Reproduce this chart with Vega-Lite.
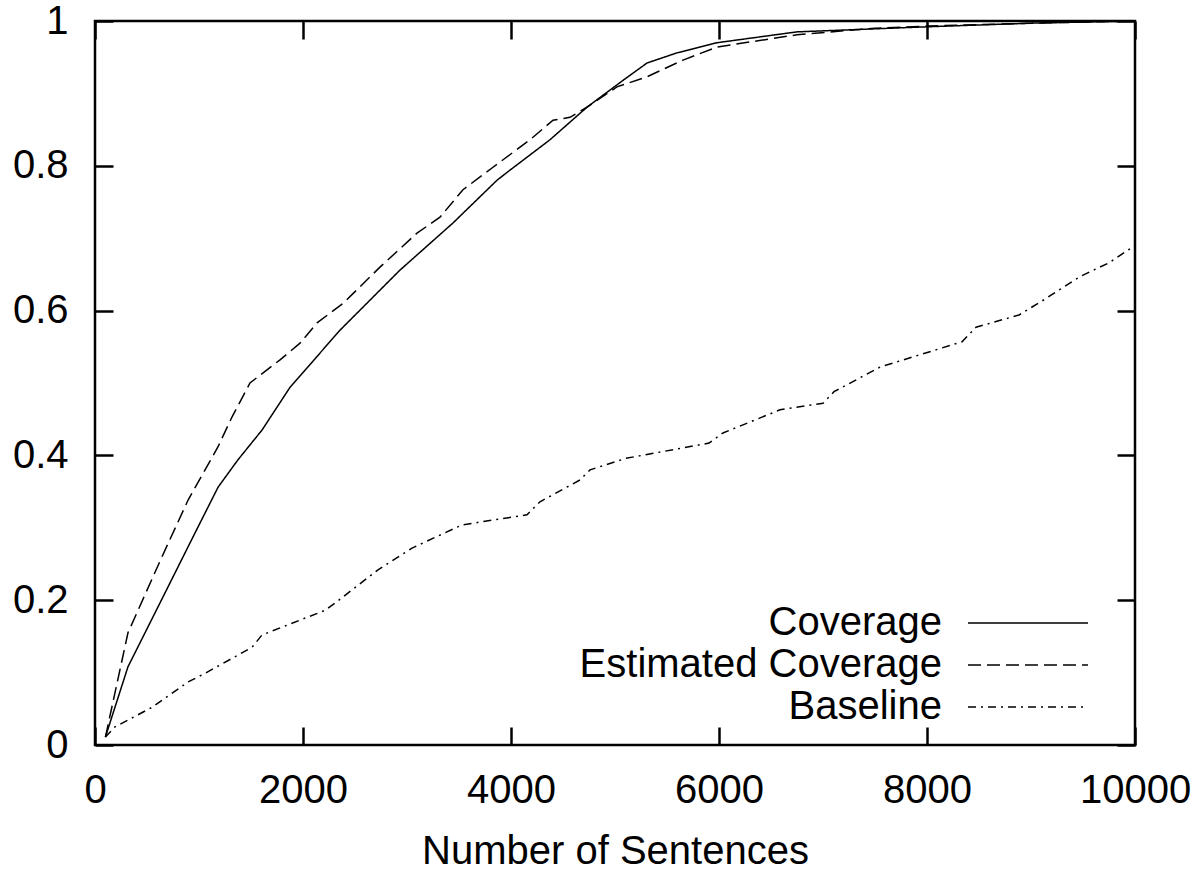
{
  "$schema": "https://vega.github.io/schema/vega-lite/v6.json",
  "width": 1040,
  "height": 724,
  "autosize": {"type": "none"},
  "padding": {"left": 95, "top": 21, "right": 65, "bottom": 128},
  "background": "white",
  "config": {
    "font": "Liberation Sans",
    "view": {"stroke": "black", "strokeWidth": 2.5},
    "axis": {
      "grid": false,
      "domain": false,
      "tickColor": "black",
      "tickWidth": 2.5,
      "tickSize": -18,
      "labelFlush": false,
      "labelColor": "black",
      "labelFont": "Liberation Sans",
      "labelFontSize": 40,
      "titleFont": "Liberation Sans",
      "titleFontSize": 40,
      "titleFontWeight": "normal",
      "titleColor": "black"
    }
  },
  "data": {
    "values": [
      {"x": 100, "y": 0.011, "series": "Coverage"},
      {"x": 317, "y": 0.108, "series": "Coverage"},
      {"x": 673, "y": 0.21, "series": "Coverage"},
      {"x": 962, "y": 0.293, "series": "Coverage"},
      {"x": 1183, "y": 0.356, "series": "Coverage"},
      {"x": 1375, "y": 0.394, "series": "Coverage"},
      {"x": 1606, "y": 0.435, "series": "Coverage"},
      {"x": 1875, "y": 0.494, "series": "Coverage"},
      {"x": 2356, "y": 0.573, "series": "Coverage"},
      {"x": 2933, "y": 0.656, "series": "Coverage"},
      {"x": 3442, "y": 0.721, "series": "Coverage"},
      {"x": 3865, "y": 0.78, "series": "Coverage"},
      {"x": 3990, "y": 0.794, "series": "Coverage"},
      {"x": 4375, "y": 0.836, "series": "Coverage"},
      {"x": 4731, "y": 0.881, "series": "Coverage"},
      {"x": 5077, "y": 0.918, "series": "Coverage"},
      {"x": 5308, "y": 0.942, "series": "Coverage"},
      {"x": 5596, "y": 0.956, "series": "Coverage"},
      {"x": 5981, "y": 0.97, "series": "Coverage"},
      {"x": 6750, "y": 0.985, "series": "Coverage"},
      {"x": 8000, "y": 0.992, "series": "Coverage"},
      {"x": 9000, "y": 0.997, "series": "Coverage"},
      {"x": 10000, "y": 1.0, "series": "Coverage"},
      {"x": 100, "y": 0.011, "series": "Estimated Coverage"},
      {"x": 317, "y": 0.155, "series": "Estimated Coverage"},
      {"x": 644, "y": 0.26, "series": "Estimated Coverage"},
      {"x": 894, "y": 0.338, "series": "Estimated Coverage"},
      {"x": 1183, "y": 0.412, "series": "Estimated Coverage"},
      {"x": 1317, "y": 0.453, "series": "Estimated Coverage"},
      {"x": 1490, "y": 0.5, "series": "Estimated Coverage"},
      {"x": 1779, "y": 0.532, "series": "Estimated Coverage"},
      {"x": 1971, "y": 0.555, "series": "Estimated Coverage"},
      {"x": 2135, "y": 0.583, "series": "Estimated Coverage"},
      {"x": 2385, "y": 0.61, "series": "Estimated Coverage"},
      {"x": 2740, "y": 0.66, "series": "Estimated Coverage"},
      {"x": 3096, "y": 0.707, "series": "Estimated Coverage"},
      {"x": 3317, "y": 0.729, "series": "Estimated Coverage"},
      {"x": 3538, "y": 0.767, "series": "Estimated Coverage"},
      {"x": 3827, "y": 0.798, "series": "Estimated Coverage"},
      {"x": 4183, "y": 0.836, "series": "Estimated Coverage"},
      {"x": 4404, "y": 0.863, "series": "Estimated Coverage"},
      {"x": 4567, "y": 0.867, "series": "Estimated Coverage"},
      {"x": 4731, "y": 0.881, "series": "Estimated Coverage"},
      {"x": 5019, "y": 0.909, "series": "Estimated Coverage"},
      {"x": 5308, "y": 0.923, "series": "Estimated Coverage"},
      {"x": 5654, "y": 0.946, "series": "Estimated Coverage"},
      {"x": 5981, "y": 0.964, "series": "Estimated Coverage"},
      {"x": 6750, "y": 0.981, "series": "Estimated Coverage"},
      {"x": 7500, "y": 0.99, "series": "Estimated Coverage"},
      {"x": 8000, "y": 0.993, "series": "Estimated Coverage"},
      {"x": 9000, "y": 0.997, "series": "Estimated Coverage"},
      {"x": 10000, "y": 1.0, "series": "Estimated Coverage"},
      {"x": 100, "y": 0.011, "series": "Baseline"},
      {"x": 192, "y": 0.025, "series": "Baseline"},
      {"x": 548, "y": 0.052, "series": "Baseline"},
      {"x": 894, "y": 0.087, "series": "Baseline"},
      {"x": 1058, "y": 0.099, "series": "Baseline"},
      {"x": 1510, "y": 0.135, "series": "Baseline"},
      {"x": 1606, "y": 0.152, "series": "Baseline"},
      {"x": 2212, "y": 0.186, "series": "Baseline"},
      {"x": 2308, "y": 0.196, "series": "Baseline"},
      {"x": 2721, "y": 0.242, "series": "Baseline"},
      {"x": 3048, "y": 0.272, "series": "Baseline"},
      {"x": 3529, "y": 0.304, "series": "Baseline"},
      {"x": 4154, "y": 0.318, "series": "Baseline"},
      {"x": 4279, "y": 0.336, "series": "Baseline"},
      {"x": 4663, "y": 0.366, "series": "Baseline"},
      {"x": 4760, "y": 0.38, "series": "Baseline"},
      {"x": 5106, "y": 0.396, "series": "Baseline"},
      {"x": 5904, "y": 0.417, "series": "Baseline"},
      {"x": 6038, "y": 0.431, "series": "Baseline"},
      {"x": 6587, "y": 0.463, "series": "Baseline"},
      {"x": 7000, "y": 0.472, "series": "Baseline"},
      {"x": 7106, "y": 0.488, "series": "Baseline"},
      {"x": 7548, "y": 0.522, "series": "Baseline"},
      {"x": 8337, "y": 0.557, "series": "Baseline"},
      {"x": 8471, "y": 0.577, "series": "Baseline"},
      {"x": 8885, "y": 0.594, "series": "Baseline"},
      {"x": 9125, "y": 0.615, "series": "Baseline"},
      {"x": 9471, "y": 0.647, "series": "Baseline"},
      {"x": 9750, "y": 0.666, "series": "Baseline"},
      {"x": 10000, "y": 0.69, "series": "Baseline"}
    ]
  },
  "layer": [
    {
      "mark": {"type": "line", "color": "black", "strokeWidth": 1.5},
      "encoding": {
        "x": {
          "field": "x", "type": "quantitative",
          "scale": {"domain": [0, 10000], "nice": false, "zero": false},
          "axis": {"orient": "bottom", "values": [0, 2000, 4000, 6000, 8000, 10000], "format": "d", "labelPadding": 43, "title": "Number of Sentences", "titlePadding": 21}
        },
        "y": {
          "field": "y", "type": "quantitative",
          "scale": {"domain": [0, 1], "nice": false},
          "axis": {"orient": "left", "values": [0, 0.2, 0.4, 0.6, 0.8, 1], "format": "~g", "labelPadding": 45, "title": null}
        },
        "strokeDash": {
          "field": "series", "type": "nominal",
          "scale": {"domain": ["Coverage", "Estimated Coverage", "Baseline"], "range": [[1, 0], [13, 6], [8, 5, 2, 5]]},
          "legend": {
            "title": null,
            "orient": "none",
            "legendX": 912,
            "legendY": 581,
            "symbolType": "M-3,0H3",
            "symbolSize": 1600,
            "symbolStrokeWidth": 1.5,
            "symbolStrokeColor": "black",
            "symbolFillColor": "transparent",
            "labelAlign": "right",
            "labelOffset": -107,
            "labelFontSize": 40,
            "labelFont": "Liberation Sans",
            "labelColor": "black",
            "labelLimit": 0,
            "rowPadding": 1
          }
        }
      }
    },
    {
      "mark": {"type": "point", "opacity": 0},
      "encoding": {
        "x": {"field": "x", "type": "quantitative", "axis": {"orient": "top", "values": [0, 2000, 4000, 6000, 8000, 10000], "labels": false, "title": null}},
        "y": {"field": "y", "type": "quantitative", "axis": {"orient": "right", "values": [0, 0.2, 0.4, 0.6, 0.8, 1], "labels": false, "title": null}}
      }
    }
  ],
  "resolve": {"axis": {"x": "independent", "y": "independent"}}
}
